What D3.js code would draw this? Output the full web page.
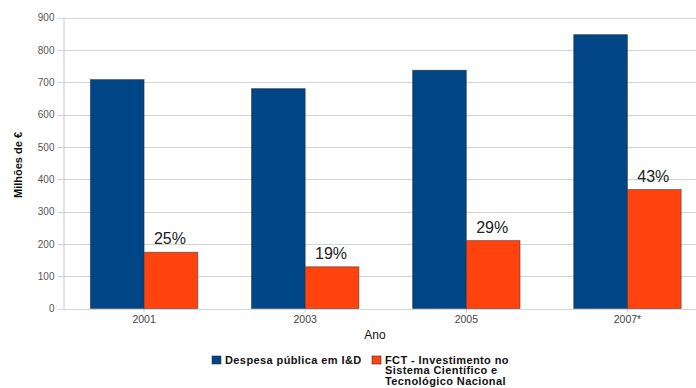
<!DOCTYPE html>
<html>
<head>
<meta charset="utf-8">
<script src="https://cdn.jsdelivr.net/npm/d3@7"></script>
<style>
  html, body { margin: 0; padding: 0; background: #fff; }
  svg { display: block; font-family: "Liberation Sans", Arial, sans-serif; }
</style>
</head>
<body>
<svg id="chart" width="696" height="388"></svg>
<script>
// Anos e valores (milhões de €)
const years = ["2001", "2003", "2005", "2007*"];
const despesaPublica = [708, 680, 737, 847];
const fctInvestimento = [174, 129, 210, 368];
const fctPercent = ["25%", "19%", "29%", "43%"];
const seriesNames = ["Despesa pública em I&D", "FCT - Investimento no Sistema Científico e Tecnológico Nacional"];
const seriesColors = ["#004586", "#ff420e"];
const yTicks = [0, 100, 200, 300, 400, 500, 600, 700, 800, 900];

const svg = d3.select("#chart");
const m = { left: 63.5, top: 17.5, bottom: 308.5, right: 708 };

const x = d3.scaleBand().domain(years).range([m.left, m.right]).paddingInner(0).paddingOuter(0);
const inner = d3.scaleBand().domain([0, 1]).range([0, x.bandwidth()]).paddingInner(0).paddingOuter(0.5);
const y = d3.scaleLinear().domain([0, 900]).range([m.bottom, m.top]);

// Linhas de grelha (com os traços do eixo à esquerda)
svg.append("g")
  .selectAll("line")
  .data(yTicks)
  .join("line")
  .attr("x1", m.left - 6)
  .attr("x2", 696)
  .attr("y1", d => Math.round(y(d)) + 0.5)
  .attr("y2", d => Math.round(y(d)) + 0.5)
  .attr("stroke", "#d4d4d4")
  .attr("stroke-width", 1);

// Eixo Y
const yAxis = svg.append("g")
  .attr("transform", `translate(${m.left},0)`)
  .call(d3.axisLeft(y).tickValues(yTicks).tickSize(0).tickPadding(9));
yAxis.select(".domain").attr("stroke", "#c8c8c8");
yAxis.selectAll("text")
  .attr("fill", "#555")
  .style("font-size", "10px")
  .style("font-family", "Liberation Sans, Arial, sans-serif");

// Eixo X
const xAxis = svg.append("g")
  .attr("transform", `translate(0,${m.bottom})`)
  .call(d3.axisBottom(x).tickSize(4).tickPadding(3));
xAxis.select(".domain").remove();
xAxis.selectAll("line").attr("stroke", "#c8c8c8");
xAxis.selectAll("text")
  .attr("fill", "#444")
  .style("font-size", "10.5px")
  .style("font-family", "Liberation Sans, Arial, sans-serif");

// Barras
const data = years.map((yr, i) => ({ yr, vals: [despesaPublica[i], fctInvestimento[i]], pct: fctPercent[i] }));
const groups = svg.append("g")
  .selectAll("g")
  .data(data)
  .join("g")
  .attr("transform", d => `translate(${x(d.yr)},0)`);

groups.selectAll("rect")
  .data(d => d.vals.map((v, k) => ({ v, k })))
  .join("rect")
  .attr("x", d => inner(d.k))
  .attr("width", inner.bandwidth())
  .attr("y", d => y(d.v))
  .attr("height", d => y(0) - y(d.v))
  .attr("fill", d => seriesColors[d.k])
  .attr("stroke", "#2a2a2a")
  .attr("stroke-opacity", 0.6)
  .attr("stroke-width", 0.8);

// Percentagens sobre as barras da FCT
groups.append("text")
  .attr("x", inner(1) + inner.bandwidth() / 2 - 1)
  .attr("y", (d, i) => y(fctInvestimento[i]) - 8)
  .attr("text-anchor", "middle")
  .attr("fill", "#222")
  .style("font-size", "16px")
  .text(d => d.pct);

// Títulos dos eixos
svg.append("text")
  .attr("transform", "translate(21.5,165) rotate(-90)")
  .attr("text-anchor", "middle")
  .attr("fill", "#111")
  .style("font-size", "11px")
  .style("font-weight", "bold")
  .text("Milhões de €");

svg.append("text")
  .attr("x", 375)
  .attr("y", 339)
  .attr("text-anchor", "middle")
  .attr("fill", "#111")
  .style("font-size", "12px")
  .text("Ano");

// Legenda
const legend = svg.append("g");
const legendItems = [
  { x: 212, lines: [seriesNames[0]] },
  { x: 372, lines: ["FCT - Investimento no", "Sistema Científico e", "Tecnológico Nacional"] }
];
legendItems.forEach((item, k) => {
  legend.append("rect")
    .attr("x", item.x)
    .attr("y", 356)
    .attr("width", 9)
    .attr("height", 8)
    .attr("fill", seriesColors[k])
    .attr("stroke", "#333")
    .attr("stroke-width", 0.6);
  const t = legend.append("text")
    .attr("x", item.x + 13)
    .attr("y", 363.5)
    .attr("fill", "#111")
    .style("font-size", "11px")
    .style("font-weight", "bold")
    .style("letter-spacing", "0.4px");
  item.lines.forEach((ln, j) => {
    t.append("tspan").attr("x", item.x + 13).attr("dy", j === 0 ? 0 : 10.7).text(ln);
  });
});
</script>
</body>
</html>
